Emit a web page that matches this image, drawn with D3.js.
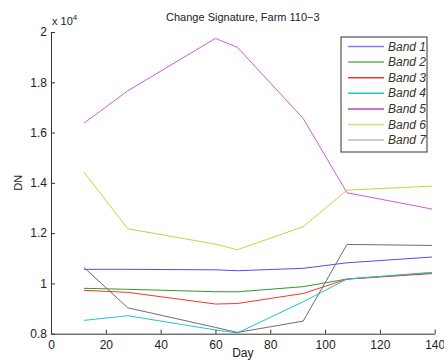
<!DOCTYPE html>
<html>
<head>
<meta charset="utf-8">
<script src="https://cdn.jsdelivr.net/npm/d3@7"></script>
<style>
  body { margin: 0; background: #fff; }
  svg text { font-family: "Liberation Sans", Arial, sans-serif; fill: #222; }
</style>
</head>
<body>
<svg id="chart" width="444" height="361"></svg>
<script>
// data (DN values)
var days = [12, 28, 60, 68, 92, 108, 139];
var band1 = [10560, 10560, 10540, 10505, 10600, 10820, 11050];
var band2 = [9805, 9765, 9670, 9665, 9870, 10175, 10425];
var band3 = [9725, 9645, 9180, 9200, 9600, 10170, 10390];
var band4 = [8530, 8715, 8150, 8030, 9270, 10175, 10440];
var band5 = [16370, 17660, 19745, 19390, 16565, 13606, 12958];
var band6 = [14430, 12175, 11560, 11340, 12255, 13710, 13870];
var band7 = [10640, 9030, 8250, 8050, 8500, 11550, 11510];
var bandNames = ["Band 1", "Band 2", "Band 3", "Band 4", "Band 5", "Band 6", "Band 7"];
var bandColors = ["#4d4dff", "#2f9a2f", "#ff3030", "#1fc8c8", "#d65ad6", "#cfcf45", "#6e6e6e"];
var legendColors = ["#8080ff", "#5fae5f", "#ff3030", "#1fc8c8", "#c040c0", "#dcdc70", "#bbbbbb"];
var xTicks = [0, 20, 40, 60, 80, 100, 120, 140];
var yTicks = [8000, 10000, 12000, 14000, 16000, 18000, 20000];
var yTickLabels = ["0.8", "1", "1.2", "1.4", "1.6", "1.8", "2"];

var series = [band1, band2, band3, band4, band5, band6, band7];

var svg = d3.select("#chart");
var margin = {left: 51, right: 9.3, top: 32, bottom: 27.3},
    width = 444 - margin.left - margin.right,
    height = 361 - margin.top - margin.bottom;

var g = svg.append("g").attr("transform", "translate(" + margin.left + "," + margin.top + ")");

var x = d3.scaleLinear().domain([0, 140]).range([0, width]);
var y = d3.scaleLinear().domain([8000, 20000]).range([height, 0]);

// lines
var line = d3.line()
    .x(function (d, i) { return x(days[i]); })
    .y(function (d) { return y(d); });

g.selectAll(".band")
    .data(series)
  .enter().append("path")
    .attr("class", "band")
    .attr("d", line)
    .attr("fill", "none")
    .attr("stroke", function (d, i) { return bandColors[i]; })
    .attr("stroke-width", 1);

// axes (matlab style, inward ticks, no box)
var xAxis = g.append("g")
    .attr("transform", "translate(0," + height + ")")
    .call(d3.axisBottom(x).tickValues(xTicks).tickSizeInner(-4).tickSizeOuter(0).tickPadding(7));
var yAxis = g.append("g")
    .call(d3.axisLeft(y).tickValues(yTicks).tickFormat(function (d, i) { return yTickLabels[i]; })
        .tickSizeInner(-4).tickSizeOuter(0).tickPadding(4));

[xAxis, yAxis].forEach(function (a) {
    a.selectAll("path").attr("stroke", "#333");
    a.selectAll("line").attr("stroke", "#333");
    a.selectAll("text").style("font-size", "12px").style("fill", "#222")
        .style("font-family", "'Liberation Sans', Arial, sans-serif");
});

// exponent label
var expo = svg.append("text").attr("x", 52).attr("y", 25).style("font-size", "11px");
expo.append("tspan").text("x 10");
expo.append("tspan").attr("dy", -5).style("font-size", "8px").text("4");

// title and axis labels
svg.append("text")
    .attr("x", margin.left + width / 2).attr("y", 21)
    .attr("text-anchor", "middle").style("font-size", "11px")
    .text("Change Signature, Farm 110\u22123");

svg.append("text")
    .attr("x", margin.left + width / 2).attr("y", 357)
    .attr("text-anchor", "middle").style("font-size", "12px")
    .text("Day");

svg.append("text")
    .attr("transform", "translate(22," + (margin.top + height / 2) + ") rotate(-90)")
    .attr("text-anchor", "middle").style("font-size", "11px")
    .text("DN");

// legend
var legend = svg.append("g").attr("transform", "translate(341,37)");
legend.append("rect")
    .attr("width", 86).attr("height", 115)
    .attr("fill", "#fff").attr("stroke", "#333").attr("stroke-width", 1);

var item = legend.selectAll(".item")
    .data(bandNames)
  .enter().append("g")
    .attr("class", "item")
    .attr("transform", function (d, i) { return "translate(0," + (9.5 + i * 15.6) + ")"; });

item.append("line")
    .attr("x1", 7).attr("x2", 43)
    .attr("stroke", function (d, i) { return legendColors[i]; })
    .attr("stroke-width", 1.5);

item.append("text")
    .attr("x", 47).attr("y", 4)
    .style("font-size", "12px").style("font-style", "italic")
    .style("fill", "#3d3228")
    .text(function (d) { return d; });
</script>
</body>
</html>
